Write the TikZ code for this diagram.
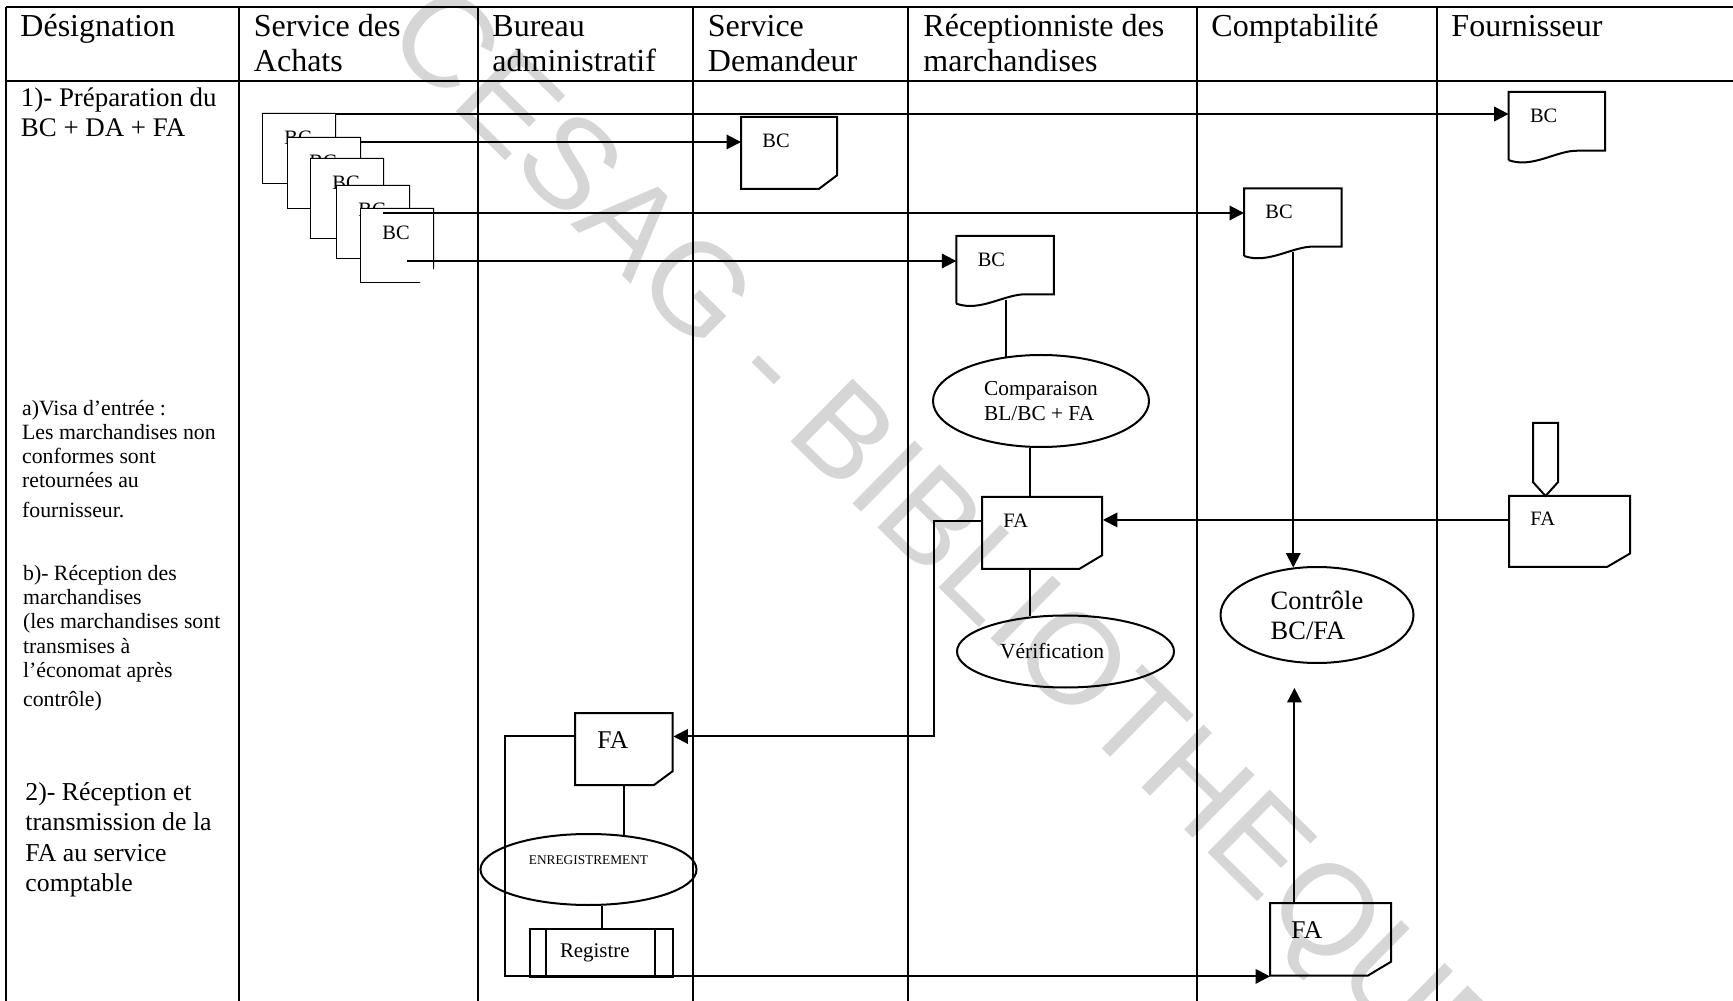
\documentclass[tikz,border=0pt]{standalone}
\usepackage{fontspec}
\setmainfont{Liberation Serif}
\newfontfamily\wmfont{Liberation Sans}
\usetikzlibrary{shapes.geometric,arrows.meta,calc}
\tikzset{
  lane/.style={line width=0.6pt},
  ln/.style={line width=0.9pt},
  arr/.style={ln,-{Triangle[length=6.5pt,width=6.5pt]}},
  hdr/.style={anchor=base west,inner sep=0pt,align=left,font=\fontsize{14.4}{15.8}\selectfont},
  txt/.style={anchor=base west,inner sep=0pt,align=left},
  lbl/.style={anchor=west,inner sep=0pt,font=\fontsize{9.2}{11}\selectfont},
  biglbl/.style={lbl,font=\fontsize{11.5}{13}\selectfont},
  box/.style 2 args={rectangle,inner sep=0pt,anchor=north west,minimum width=#1*0.45pt,minimum height=#2*0.45pt},
  cutdoc/.style 2 args={box={#1}{#2},append after command={\pgfextra{\draw[ln,shift={(\tikzlastnode.north west)},x=#1*0.45pt,y=-#2*0.45pt] (0,0)--(1,0)--(1,0.81)--(0.81,1)--(0,1)--cycle;}}},
  wavedoc/.style 2 args={box={#1}{#2},append after command={\pgfextra{\draw[ln,shift={(\tikzlastnode.north west)},x=#1*0.45pt,y=-#2*0.45pt] (0,0.94)--(0,0)--(1,0)--(1,0.81)--(0.72,0.81) .. controls (0.5,0.8) and (0.25,1.06) .. (0,0.94);}}},
  offpage/.style 2 args={box={#1}{#2},append after command={\pgfextra{\draw[ln,shift={(\tikzlastnode.north west)},x=#1*0.45pt,y=-#2*0.45pt] (0,0)--(1,0)--(1,0.81)--(0.5,1)--(0,0.81)--cycle;}}},
  predef/.style 2 args={box={#1}{#2},draw,ln,append after command={\pgfextra{\draw[ln,shift={(\tikzlastnode.north west)},x=#1*0.45pt,y=-#2*0.45pt] (0.117,0)--(0.117,1) (0.881,0)--(0.881,1);}}},
  ell/.style 2 args={ellipse,draw,ln,inner sep=0pt,align=left,minimum width=#1*0.45pt,minimum height=#2*0.45pt}
}
\begin{document}
\begin{tikzpicture}[x=0.45pt,y=-0.45pt]
\useasboundingbox (0,0) rectangle (1733,1001);
\node[rotate=-44.6,inner sep=0pt,text=black!16,font=\wmfont\fontsize{57.8}{60}\selectfont] (wm) at (944,547) {CESAG - BIBLIOTHEQUE};
\draw[lane] (6,7)--(1733,7) (6,81)--(1733,81);
\foreach \x in {6,239,478,693,908,1197,1437}{\draw[lane] (\x,7)--(\x,1001);}
\node[hdr] (hdes) at (20,36.5) {Désignation};
\node[hdr] (hach) at (253.5,71.5) {Service des\\Achats};
\node[hdr] (hbur) at (492,71.5) {Bureau\\administratif};
\node[hdr] (hdem) at (707.5,71.5) {Service\\Demandeur};
\node[hdr] (hrec) at (923,71.5) {Réceptionniste des\\marchandises};
\node[hdr] (hcpt) at (1211,36.5) {Comptabilité};
\node[hdr] (hfou) at (1451,36.5) {Fournisseur};
\node[txt,font=\fontsize{12.1}{13.4}\selectfont] (t1) at (20.5,136.7) {1)- Préparation du\\BC + DA + FA};
\node[txt,font=\fontsize{9.8}{10.9}\selectfont] (ta) at (21.7,517.3) {a)Visa d’entrée :\\Les marchandises non\\conformes sont\\retournées au\\[2.3pt]fournisseur.};
\node[txt,font=\fontsize{9.8}{10.9}\selectfont] (tb) at (22.7,706.6) {b)- Réception des\\marchandises\\(les marchandises sont\\transmises à\\l’économat après\\[2.3pt]contrôle)};
\node[txt,font=\fontsize{11.6}{13.7}\selectfont] (t2) at (25,891.5) {2)- Réception et\\transmission de la\\FA au service\\comptable};
\foreach \i/\x/\y/\h in {1/263/114/69,2/288/138/70,3/311/159/79,4/337/186/72,5/361/209/73}{
  \node[cutdoc={72}{\h},fill=white] (bc\i) at (\x,\y) {};
  \node[lbl] (bct\i) at ([shift={(21,24)}]bc\i.north west) {BC};
}
\node[cutdoc={96}{72}] (bcdem) at (741,117) {};
\node[lbl] (bcdemt) at ([shift={(21,24)}]bcdem.north west) {BC};
\node[wavedoc={96.5}{72.5}] (bcfou) at (1508.6,92) {};
\node[lbl] (bcfout) at ([shift={(21,24)}]bcfou.north west) {BC};
\node[wavedoc={97.6}{72}] (bccpt) at (1244,188.3) {};
\node[lbl] (bccptt) at ([shift={(21,24)}]bccpt.north west) {BC};
\node[wavedoc={97.5}{72}] (bcrec) at (956.3,236) {};
\node[lbl] (bcrect) at ([shift={(21,24)}]bcrec.north west) {BC};
\node[ell={216}{92},font=\fontsize{9.6}{10.9}\selectfont] (comp) at (1041,401) {Comparaison\\BL/BC + FA};
\node[cutdoc={120}{72}] (farec) at (982,497) {};
\node[lbl] (farect) at ([shift={(21,24)}]farec.north west) {FA};
\node[ell={217}{72},font=\fontsize{9.7}{11}\selectfont] (verif) at (1065.5,651.5) {Vérification\hspace*{12pt}};
\node[offpage={25}{73}] (offp) at (1533,423) {};
\node[cutdoc={121}{71}] (fafou) at (1509,496) {};
\node[lbl] (fafout) at ([shift={(21,23)}]fafou.north west) {FA};
\node[ell={193}{96},font=\fontsize{11.9}{13.5}\selectfont] (ctrl) at (1317,615) {Contrôle\\BC/FA};
\node[cutdoc={97.5}{72}] (fabur) at (575,713) {};
\node[biglbl] (fabürt) at ([shift={(22,27)}]fabur.north west) {FA};
\node[ell={216}{71},font=\fontsize{6}{7}\selectfont,text height=4.2pt,text depth=8.6pt] (enr) at (588.5,869.5) {ENREGISTREMENT};
\node[predef={143}{48},font=\fontsize{9.4}{11}\selectfont] (reg) at (529,928) {Registre\hspace*{6pt}};
\node[cutdoc={121}{72.5}] (facpt) at (1270,903) {};
\node[biglbl] (facptt) at ([shift={(21,27.5)}]facpt.north west) {FA};
\coordinate (s2) at ([shift={(0,4)}]bc2.north east);
\coordinate (s3) at ([shift={(22,4)}]bc5.north west);
\coordinate (s4) at ([shift={(46,52)}]bc5.north west);
\draw[arr] (bc1.north east)--(bc1.north east -| bcfou.west);
\draw[arr] (s2)--(s2 -| bcdem.west);
\draw[arr] (s3)--(s3 -| bccpt.west);
\draw[arr] (s4)--(s4 -| bcrec.west);
\coordinate (s5) at ([shift={(0,-9)}]bcrec.south);
\coordinate (c5) at ([shift={(0,3)}]comp.north);
\draw[ln] (s5)--(s5 |- c5);
\coordinate (c6) at ([shift={(-11,0)}]comp.south);
\draw[ln] (c6)--(c6 |- farec.north);
\coordinate (c7) at ([shift={(-12.5,0)}]farec.south);
\coordinate (c8) at ([shift={(0,2)}]verif.north);
\draw[ln] (c7)--(c7 |- c8);
\coordinate (c9) at ([shift={(0,-9)}]bccpt.south);
\coordinate (c10) at ([shift={(0,1.5)}]ctrl.north);
\draw[arr] (c9)--(c9 |- c10);
\coordinate (c11) at ([shift={(0,-12)}]fafou.west);
\draw[arr] (c11)--(c11 -| farec.east);
\coordinate (c12) at ([shift={(0,-12)}]farec.west);
\coordinate (c13) at ([shift={(0,-13)}]fabur.east);
\draw[arr] (c12)--++(-48,0) |- (c13);
\coordinate (c14) at ([shift={(0,-13)}]fabur.west);
\draw[arr] (c14)--++(-70.5,0) |- (facpt.south west);
\coordinate (c15) at ([shift={(-36.5,0)}]facpt.north);
\coordinate (up) at ([shift={(0,-215)}]c15);
\draw[arr] (c15)--(up);
\coordinate (c17) at ([shift={(0,2)}]enr.north);
\draw[ln] (fabur.south)--(fabur.south |- c17);
\draw[ln] (reg.north)--(reg.north |- enr.south);
\end{tikzpicture}
\end{document}
